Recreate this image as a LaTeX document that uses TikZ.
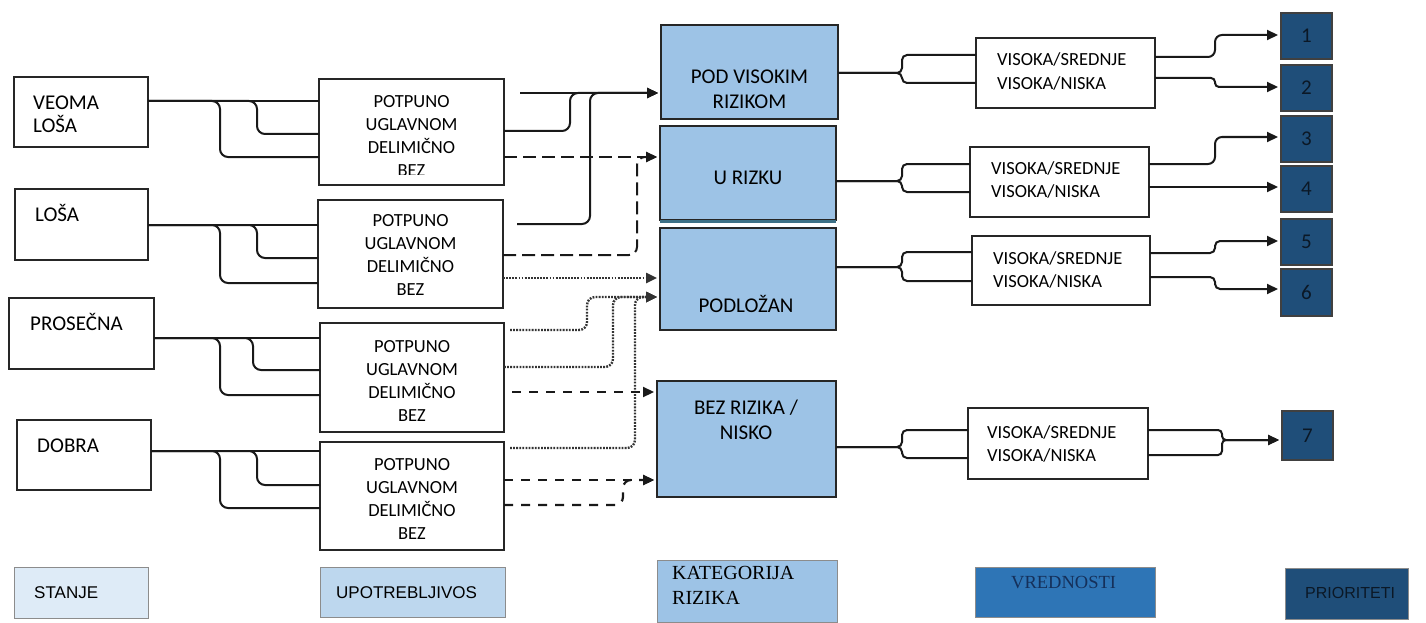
\documentclass[tikz,border=0pt]{standalone}
\usepackage{fontspec}
\setmainfont{Carlito}
\newfontfamily\lgserif{Liberation Serif}
\newfontfamily\lgsans{Liberation Sans}
\usetikzlibrary{arrows.meta,calc}
\definecolor{catblue}{HTML}{9DC3E6}
\definecolor{pblue}{HTML}{1F4E79}
\definecolor{pnum}{HTML}{0B1826}
\definecolor{lg1}{HTML}{DEEBF7}
\definecolor{lg2}{HTML}{BDD7EE}
\definecolor{lg4}{HTML}{2E75B6}
\definecolor{lgtxt}{HTML}{15305A}
\definecolor{tealshadow}{HTML}{3D7086}
\begin{document}
\begin{tikzpicture}[x=1pt,y=-1pt,
  box/.style={draw=black!85, line width=1.3, anchor=north west, inner sep=0, outer sep=0},
  catbox/.style={box, fill=catblue},
  pribox/.style={box, fill=pblue, draw=black!75, text=pnum, font=\fontsize{21}{24}\selectfont},
  lgbox/.style={box, draw=black!45, line width=1},
  conn/.style={draw=black!90, line width=2, rounded corners=8},
  arr/.style={-{Triangle[length=11pt,width=10pt]}, shorten >=3},
  dsh/.style={conn, line width=2, dash pattern=on 13pt off 6pt},
  dsh2/.style={conn, line width=2.2, dash pattern=on 9pt off 8pt},
  dotl/.style={conn, draw=black!80, line width=2.4, dash pattern=on 1.8pt off 1.3pt},
  sttext/.style={anchor=base west, align=left, inner sep=0, font=\fontsize{21}{23}\selectfont},
  utext/.style={anchor=base, align=center, inner sep=0, font=\fontsize{18.5}{22.7}\selectfont},
  ctext/.style={anchor=base, align=center, inner sep=0, font=\fontsize{21}{25}\selectfont},
  vtext/.style={anchor=base west, align=left, inner sep=0, font=\fontsize{18.5}{23.5}\selectfont}
]
\useasboundingbox (0,0) rectangle (1426,623);

% ---------- STANJE boxes ----------
\node[box, minimum width=134, minimum height=70] (s1) at (14,77) {};
\node[box, minimum width=133, minimum height=71] (s2) at (15,189) {};
\node[box, minimum width=145, minimum height=71] (s3) at (9,298) {};
\node[box, minimum width=134, minimum height=70] (s4) at (17,420) {};
\node[sttext] (s1t) at (33,132) {VEOMA\\LOŠA};
\node[sttext] (s2t) at (35,221) {LOŠA};
\node[sttext] (s3t) at (30,330) {PROSEČNA};
\node[sttext] (s4t) at (37,452) {DOBRA};

% ---------- UPOTREBLJIVOST boxes ----------
\node[box, minimum width=185, minimum height=106] (u1) at (319,79) {};
\node[box, minimum width=185, minimum height=108] (u2) at (318,200) {};
\node[box, minimum width=184, minimum height=109] (u3) at (320,323) {};
\node[box, minimum width=184, minimum height=108] (u4) at (320,442) {};
\begin{scope}
\clip (300,0) rectangle (520,174);
\node[utext] (u1t) at (411.5,176) {POTPUNO\\UGLAVNOM\\DELIMIČNO\\BEZ};
\end{scope}
\node[utext] (u2t) at (410.5,295) {POTPUNO\\UGLAVNOM\\DELIMIČNO\\BEZ};
\node[utext] (u3t) at (412,421) {POTPUNO\\UGLAVNOM\\DELIMIČNO\\BEZ};
\node[utext] (u4t) at (412,539) {POTPUNO\\UGLAVNOM\\DELIMIČNO\\BEZ};

% ---------- KATEGORIJA boxes ----------
\node[catbox, minimum width=177, minimum height=94] (c1) at (661,25) {};
\node[catbox, minimum width=176, minimum height=94] (c2) at (660,126) {};
\draw[tealshadow, line width=2.5] ([yshift=-1.5pt]c2.south west) -- ([yshift=-1.5pt]c2.south east);
\node[catbox, minimum width=176, minimum height=102] (c3) at (660,228) {};
\node[catbox, minimum width=179, minimum height=116] (c4) at (657,381) {};
\node[ctext] (c1t) at (749.5,109) {POD VISOKIM\\RIZIKOM};
\node[ctext] (c2t) at (748,184) {U RIZKU};
\node[ctext] (c3t) at (746,312) {PODLOŽAN};
\node[ctext] (c4t) at (746,439) {BEZ RIZIKA /\\NISKO};

% ---------- VREDNOSTI boxes ----------
\node[box, minimum width=179, minimum height=70] (v1) at (976,38) {};
\node[box, minimum width=179, minimum height=70] (v2) at (970,147) {};
\node[box, minimum width=178, minimum height=69] (v3) at (972,236) {};
\node[box, minimum width=180, minimum height=71] (v4) at (968,408) {};
\node[vtext] (v1t) at (997,89.5) {VISOKA/SREDNJE\\VISOKA/NISKA};
\node[vtext] (v2t) at (991,197.5) {VISOKA/SREDNJE\\VISOKA/NISKA};
\node[vtext] (v3t) at (993,287.5) {VISOKA/SREDNJE\\VISOKA/NISKA};
\node[vtext] (v4t) at (987,461.5) {VISOKA/SREDNJE\\VISOKA/NISKA};

% ---------- PRIORITETI boxes ----------
\node[pribox, minimum width=51, minimum height=46] (p1) at (1281,13) {1};
\node[pribox, minimum width=51, minimum height=46] (p2) at (1281,65) {2};
\node[pribox, minimum width=51, minimum height=46] (p3) at (1281,116) {3};
\node[pribox, minimum width=51, minimum height=46] (p4) at (1281,166) {4};
\node[pribox, minimum width=51, minimum height=46] (p5) at (1281,219) {5};
\node[pribox, minimum width=51, minimum height=47] (p6) at (1281,269) {6};
\node[pribox, minimum width=51, minimum height=49] (p7) at (1282,411) {7};

% ---------- left connectors ----------
\draw[conn] (s1.east |- 0,101) -- (u1.west |- 0,101);
\draw[conn] (s1.east |- 0,101) -| (257,134) -- (u1.west |- 0,134);
\draw[conn] (s1.east |- 0,101) -| (220,157) -- (u1.west |- 0,157);

\draw[conn] (s2.east |- 0,225) -- (u2.west |- 0,225);
\draw[conn] (s2.east |- 0,225) -| (257,258) -- (u2.west |- 0,258);
\draw[conn] (s2.east |- 0,225) -| (220,283) -- (u2.west |- 0,283);

\draw[conn] (s3.east |- 0,338) -- (u3.west |- 0,338);
\draw[conn] (s3.east |- 0,338) -| (253,370) -- (u3.west |- 0,370);
\draw[conn] (s3.east |- 0,338) -| (220,395) -- (u3.west |- 0,395);

\draw[conn] (s4.east |- 0,451) -- (u4.west |- 0,451);
\draw[conn] (s4.east |- 0,451) -| (257,485) -- (u4.west |- 0,485);
\draw[conn] (s4.east |- 0,451) -| (220,508) -- (u4.west |- 0,508);

% ---------- middle connectors ----------
\coordinate (a1) at (520,93);
\coordinate (a3) at (517,224);
\draw[conn, arr] (a1) -- (c1.west |- a1);
\draw[conn, arr] (u1.east |- 0,131) -| (570,93) -- (c1.west |- 0,93);
\draw[conn, arr] (a3) -| (590,93) -- (c1.west |- 0,93);

\draw[dsh, arr] (u1.east |- 0,157) -- (c2.west |- 0,157);
\draw[dsh, arr] (u2.east |- 0,255) -| (637,157) -- (c2.west |- 0,157);

\coordinate (o2) at (510,330);
\coordinate (o4) at (510,448);
\draw[dotl, arr] (u2.east |- 0,278) -- (c3.west |- 0,278);
\draw[dotl, arr] (o2) -| (587,297) -- (c3.west |- 0,297);
\draw[dotl, arr] (u3.east |- 0,367) -| (613,297) -- (c3.west |- 0,297);
\draw[dotl, arr] (o4) -| (635,297) -- (c3.west |- 0,297);

\coordinate (d3) at (512,392);
\draw[dsh2, arr] (d3) -- (c4.west |- d3);
\draw[dsh2, arr] (u4.east |- 0,480) -- (c4.west |- 0,480);
\draw[dsh2, arr] (u4.east |- 0,505) -| (623,480) -- (c4.west |- 0,480);

% ---------- forks to VREDNOSTI ----------
\draw[conn, rounded corners=5] (c1.east |- 0,73) -| (902,55) -- (v1.west |- 0,55);
\draw[conn, rounded corners=5] (c1.east |- 0,73) -| (902,83) -- (v1.west |- 0,83);
\draw[conn, rounded corners=5] (c2.east |- 0,181) -| (902,164) -- (v2.west |- 0,164);
\draw[conn, rounded corners=5] (c2.east |- 0,181) -| (902,192) -- (v2.west |- 0,192);
\draw[conn, rounded corners=5] (c3.east |- 0,267) -| (902,252) -- (v3.west |- 0,252);
\draw[conn, rounded corners=5] (c3.east |- 0,267) -| (902,281) -- (v3.west |- 0,281);
\draw[conn, rounded corners=5] (c4.east |- 0,447) -| (902,430) -- (v4.west |- 0,430);
\draw[conn, rounded corners=5] (c4.east |- 0,447) -| (902,458) -- (v4.west |- 0,458);

% ---------- to PRIORITETI ----------
\draw[conn, arr, rounded corners=7] (v1.east |- 0,57) -| (1215,35) -- (p1.west |- 0,35);
\draw[conn, arr, rounded corners=4] (v1.east |- 0,78) -| (1215,87) -- (p2.west |- 0,87);
\draw[conn, arr, rounded corners=7] (v2.east |- 0,164) -| (1215,137) -- (p3.west |- 0,137);
\draw[conn, arr] (v2.east |- 0,187) -- (p4.west |- 0,187);
\draw[conn, arr, rounded corners=5] (v3.east |- 0,253) -| (1215,241) -- (p5.west |- 0,241);
\draw[conn, arr, rounded corners=5] (v3.east |- 0,277) -| (1215,289) -- (p6.west |- 0,289);
\draw[conn, arr, rounded corners=4] (v4.east |- 0,430) -| (1222,440) -- (p7.west |- 0,440);
\draw[conn, arr, rounded corners=4] (v4.east |- 0,455) -| (1222,440) -- (p7.west |- 0,440);

% ---------- legend ----------
\node[lgbox, fill=lg1, minimum width=134, minimum height=51] (L1) at (14,567) {};
\node[lgbox, fill=lg2, minimum width=185, minimum height=50] (L2) at (320,567) {};
\node[lgbox, fill=catblue, minimum width=180, minimum height=62] (L3) at (657,560) {};
\node[lgbox, fill=lg4, minimum width=180, minimum height=50] (L4) at (975,567) {};
\node[lgbox, fill=pblue, minimum width=123, minimum height=51] (L5) at (1285,568) {};
\node[anchor=base west, inner sep=0, font=\lgsans\fontsize{17}{20}\selectfont] (L1t) at (34,598) {STANJE};
\node[anchor=base west, inner sep=0, font=\lgsans\fontsize{17}{20}\selectfont] (L2t) at (336,598) {UPOTREBLJIVOS};
\node[anchor=base west, align=left, inner sep=0, font=\lgserif\fontsize{20}{25}\selectfont] (L3t) at (672,604) {KATEGORIJA\\RIZIKA};
\node[anchor=base west, inner sep=0, text=lgtxt, font=\lgserif\fontsize{18.5}{22}\selectfont] (L4t) at (1011,588) {VREDNOSTI};
\node[anchor=base west, inner sep=0, text=pnum, font=\lgsans\fontsize{16}{20}\selectfont] (L5t) at (1305,598) {PRIORITETI};
\end{tikzpicture}
\end{document}
